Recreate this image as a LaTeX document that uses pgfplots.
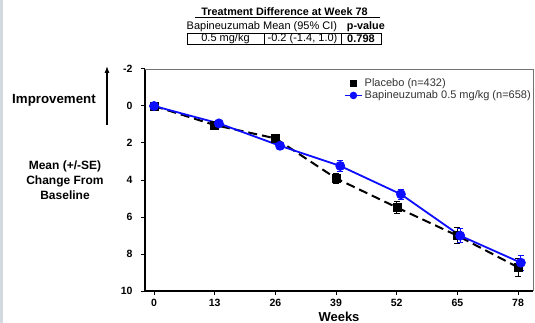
\documentclass[border=0pt]{standalone}
\usepackage{fontspec}
\setmainfont{Liberation Sans}
\usepackage{pgfplots}
\pgfplotsset{compat=1.18}
\usetikzlibrary{arrows.meta}

\definecolor{bapi}{rgb}{0.05,0.05,1}
\definecolor{legtext}{rgb}{0.2,0.2,0.2}
\definecolor{framegray}{rgb}{0.45,0.45,0.45}
\definecolor{sidestrip}{rgb}{0.83,0.85,0.88}

% Placebo: week, mean change, SE
\pgfplotstableread{
week  mean  se
0     0.00  0.08
13    1.03  0.15
26    1.75  0.18
39    3.91  0.29
52    5.48  0.33
65    7.01  0.42
78    8.72  0.48
}\placebo

% Bapineuzumab 0.5 mg/kg (offset slightly in time for readability)
\pgfplotstableread{
week  mean  se
0     0.00  0.08
13.9  0.94  0.15
27.0  2.15  0.20
39.9  3.24  0.29
52.9  4.77  0.27
65.6  7.01  0.39
78.6  8.47  0.41
}\bapi

\begin{document}
\begin{tikzpicture}[x=1pt,y=1pt]
  \useasboundingbox (0,0) rectangle (535,323);
  \fill[sidestrip] (0,0) rectangle (3,323);

  % treatment-difference table
  \node[font=\bfseries\fontsize{10.8}{12}\selectfont] at (284.5,311.5) {Treatment Difference at Week 78};
  \draw[line width=0.8pt] (195,305.5) -- (380,305.5);
  \node[font=\fontsize{11}{12}\selectfont, anchor=west, inner sep=0pt] at (186.5,296) {Bapineuzumab Mean (95\% CI)};
  \node[font=\bfseries\fontsize{10.8}{12}\selectfont, anchor=east, inner sep=0pt] at (385,296) {p-value};
  \draw[line width=0.6pt] (187,279) rectangle (381,290);
  \draw[line width=0.6pt] (264,279) -- (264,290) (341,279) -- (341,290);
  \node[font=\fontsize{11}{12}\selectfont] at (225.5,284.5) {0.5 mg/kg};
  \node[font=\fontsize{11}{12}\selectfont] at (302.5,284.5) {-0.2 (-1.4, 1.0)};
  \node[font=\bfseries\fontsize{11}{12}\selectfont] at (361,284.5) {0.798};

  % left-hand annotations
  \node[font=\bfseries\fontsize{13.3}{15}\selectfont] at (54,223) {Improvement};
  \draw[-{Latex[length=7pt,width=5pt]}, line width=1.1pt] (107,198) -- (107,257);
  \node[font=\bfseries\fontsize{12}{15}\selectfont, align=center] at (65,143)
    {Mean (+/-SE)\\Change From\\Baseline};

  \begin{axis}[
    at={(145pt,32pt)}, anchor=south west,
    scale only axis, width=388pt, height=222pt,
    xmin=-1.93, xmax=81.2,
    ymin=-2, ymax=10, y dir=reverse,
    xtick={0,13,26,39,52,65,78},
    ytick={-2,0,2,4,6,8,10},
    axis x line*=bottom, axis y line*=left,
    axis line style={line width=1.1pt, -},
    tick style={line width=1pt, black},
    tick align=outside, major tick length=4pt,
    /pgf/number format/assume math mode=true,
    ticklabel style={font=\bfseries\fontsize{10.5}{12}\selectfont},
    xticklabel style={yshift=-1pt},
    yticklabel style={xshift=-5pt},
    xlabel={Weeks},
    xlabel style={font=\bfseries\fontsize{13}{14}\selectfont, yshift=2pt},
    clip=false,
    legend style={draw=none, fill=none, at={(rel axis cs:0.505,0.975)}, anchor=north west,
      font=\fontsize{11}{12}\selectfont\color{legtext}, row sep=-1.5pt},
    legend cell align=left,
  ]
    % plot frame on top and right
    \draw[framegray, line width=0.8pt] (rel axis cs:0,1) -- (rel axis cs:1,1) -- (rel axis cs:1,0);

    % placebo trend
    \addplot[black, line width=2pt, dash pattern=on 9pt off 5pt, forget plot]
      table[x=week, y=mean] {\placebo};
    % placebo points with SE
    \addplot[only marks, black, mark=square*, mark size=4pt, forget plot,
      error bars/.cd, y dir=both, y explicit,
      error bar style={line width=0.9pt, black},
      error mark options={rotate=90, mark size=3pt, line width=0.9pt, black}]
      table[x=week, y=mean, y error=se] {\placebo};
    % bapineuzumab
    \addplot[bapi, line width=1.8pt, mark=*, mark size=4pt, mark options={bapi}, forget plot,
      error bars/.cd, y dir=both, y explicit,
      error bar style={line width=0.9pt, bapi},
      error mark options={rotate=90, mark size=3pt, line width=0.9pt, bapi}]
      table[x=week, y=mean, y error=se] {\bapi};

    % legend entries
    \addlegendimage{only marks, black, mark=square*, mark size=3pt}
    \addlegendentry{Placebo (n=432)}
    \addlegendimage{bapi, line width=1.5pt, mark=*, mark size=3pt, mark options={bapi}}
    \addlegendentry{Bapineuzumab 0.5 mg/kg (n=658)}
  \end{axis}
\end{tikzpicture}
\end{document}
